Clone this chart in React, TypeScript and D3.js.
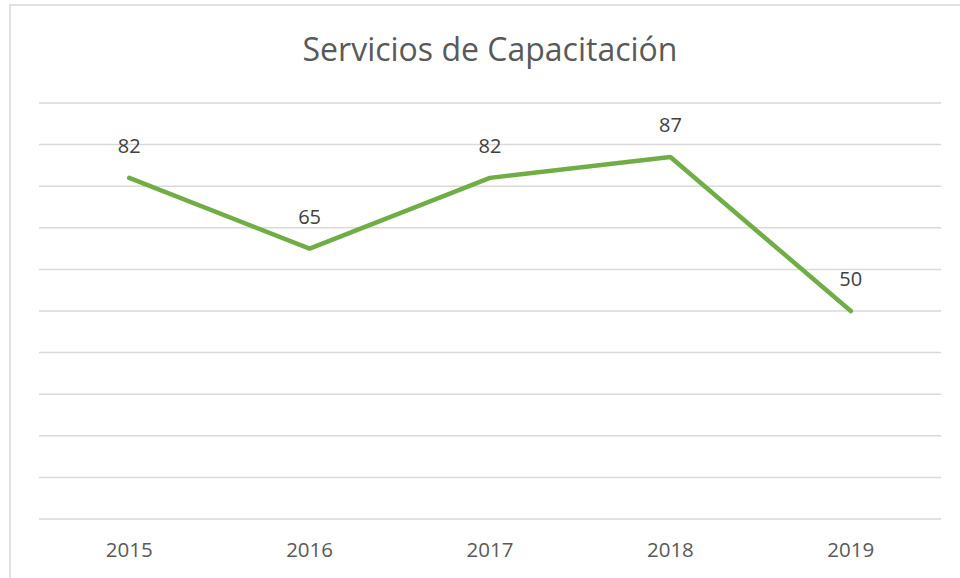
import React from 'react';
import * as d3 from 'd3';

// chart data
const years = ['2015', '2016', '2017', '2018', '2019'];
const servicios = [82, 65, 82, 87, 50];
const gridTicks = [0, 10, 20, 30, 40, 50, 60, 70, 80, 90, 100];

// dimensions
const svgWidth = 960;
const svgHeight = 578;
const plotLeft = 39;
const plotRight = 941;
const plotTop = 103;
const plotBottom = 519;
const lineColor = '#70ad47';
const gridColor = '#d9d9d9';
const textColor = '#595959';
const font = '"Open Sans", Carlito, Calibri, sans-serif';

const App = () => {
  const xScale = d3.scaleBand<string>()
    .domain(years)
    .range([plotLeft, plotRight]);

  const yScale = d3.scaleLinear()
    .domain([0, 100])
    .range([plotBottom, plotTop]);

  const xPos = (d: string) => (xScale(d) ?? 0) + xScale.bandwidth() / 2;

  const line = d3.line<number>()
    .x((_, i) => xPos(years[i]))
    .y(d => yScale(d));

  return (
    <svg
      width={svgWidth}
      height={svgHeight}
      style={{ position: 'absolute', left: 0, top: 0, display: 'block', background: '#fff' }}
    >
      {/* chart frame */}
      <rect x={10} y={5} width={980} height={600} fill="#fff" stroke={gridColor} strokeWidth={1.5} />

      <text x={490} y={61} textAnchor="middle" fontFamily={font} fontSize={32} fill={textColor}>
        Servicios de Capacitación
      </text>

      {/* gridlines */}
      {gridTicks.map(t => (
        <line key={t} x1={plotLeft} x2={plotRight} y1={yScale(t)} y2={yScale(t)}
          stroke={gridColor} strokeWidth={1.5} />
      ))}

      <path d={line(servicios) ?? ''} fill="none" stroke={lineColor} strokeWidth={4.5}
        strokeLinejoin="round" strokeLinecap="round" />

      {/* data labels */}
      {servicios.map((v, i) => (
        <text key={i} x={xPos(years[i])} y={yScale(v) - 25} textAnchor="middle"
          fontFamily={font} fontSize={20} fill="#404040">{v}</text>
      ))}

      {/* category labels */}
      {years.map(y => (
        <text key={y} x={xPos(y)} y={557} textAnchor="middle"
          fontFamily={font} fontSize={20.5} fill={textColor}>{y}</text>
      ))}
    </svg>
  );
};

export default App;
